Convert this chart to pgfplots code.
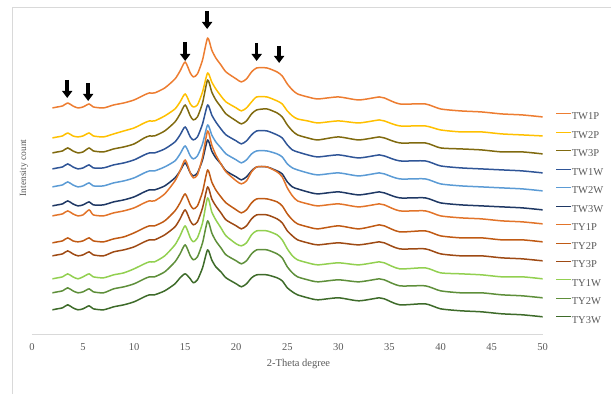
\documentclass[border=0pt]{standalone}
\usepackage{fontspec}
\setmainfont{Liberation Serif}
\usepackage{pgfplots}
\usepackage{pgfplotstable}
\pgfplotsset{compat=1.18}
\usetikzlibrary{arrows.meta}
\definecolor{cTWonep}{HTML}{ED7D31}
\definecolor{cTWtwop}{HTML}{FFC000}
\definecolor{cTWthreep}{HTML}{806A0F}
\definecolor{cTWonew}{HTML}{2F5597}
\definecolor{cTWtwow}{HTML}{5B9BD5}
\definecolor{cTWthreew}{HTML}{1F3864}
\definecolor{cTYonep}{HTML}{E2742A}
\definecolor{cTYtwop}{HTML}{C05A14}
\definecolor{cTYthreep}{HTML}{9E4A14}
\definecolor{cTYonew}{HTML}{92D050}
\definecolor{cTYtwow}{HTML}{5E8F3A}
\definecolor{cTYthreew}{HTML}{3E6B2A}
\definecolor{txtgray}{HTML}{595959}
\definecolor{linegray}{HTML}{D9D9D9}
% y values: vertical position (pixel rows from the top of the figure)
\pgfplotstableread{
x s1 s2 s3 s4 s5 s6 s7 s8 s9 s10 s11 s12
2 108 138 153 169 187 206 216 243 256 279 293 310
2.5 107 137 152 168 186 205 215 242 255 278 292 309
3 106 136 151 167 185 204 214 241 254 277 291 308
3.5 103 133 148 164 182 201 211 238 251 274 288 305
4 106 136 151 167 185 204 214 241 254 277 291 308
4.5 108 137 153 169 187 206 216 242 256 279 293 310
5 107 136 152 168 186 205 215 241 255 277 292 309
5.6 104 133 148 165 183 202 210 238 252 274 289 306
6 107 136 151 168 186 205 215 241 255 277 292 309
7 108 137 152 168 186 205 216 242 256 278 293 310
8 105 134 149 165 183 202 213 239 252 275 289 307
9 103 131 147 163 181 200 211 237 250 273 287 305
10 100 128 144 160 178 197 208 233 247 269 284 302
11 95 123 138 155 173 192 203 228 242 264 279 297
11.5 93 121 136 153 171 190 201 226 240 262 277 295
12 93 121 136 153 171 190 201 226 240 262 277 295
13 88 116 131 149 167 186 194 221 235 256 272 291
14 79 109 122 142 161 178 181 211 227 245 262 284
14.5 71 102 114 135 154 171 171 203 219 236 254 278
15 62 94 105 127 146 163 160 194 210 226 245 274
15.5 73 104 116 137 156 173 173 205 221 238 256 279
15.8 77 107 120 140 159 176 178 209 225 242 260 283
16.2 74 105 117 137 156 173 175 206 222 238 257 280
16.7 60 92 103 124 144 160 157 192 208 223 243 268
17.2 38 73 80 105 125 140 131 170 187 198 221 250
17.6 50 82 92 115 135 151 145 182 199 212 233 260
18 58 89 100 122 142 158 155 190 206 220 241 267
18.5 65 96 107 129 148 164 164 197 213 228 248 272
19 72 102 114 135 154 171 172 203 220 236 255 278
20 79 108 121 141 160 177 181 210 226 244 261 284
20.5 82 111 124 144 163 180 184 213 229 246 264 287
21 79 108 121 141 160 177 181 210 226 243 261 284
21.5 72 102 114 135 154 171 172 203 219 235 254 278
22 68 97 110 131 151 167 167 199 215 231 250 275
23 68 97 109 131 151 167 167 199 215 231 250 275
24 72 101 113 135 154 171 172 202 219 235 254 278
24.5 76 104 117 138 157 174 177 206 223 240 258 281
25 84 111 125 145 164 182 188 214 231 249 267 288
25.5 90 116 131 150 168 187 196 220 236 256 273 292
26 94 119 135 152 170 189 201 224 240 260 277 295
27 97 121 138 155 173 192 204 227 243 263 280 298
28 99 123 140 157 175 194 206 229 245 265 282 300
30 97 121 137 155 173 192 204 226 243 263 280 298
32 100 123 140 158 176 195 207 229 245 265 282 301
34 97 120 137 155 173 192 204 225 242 262 279 298
34.5 98 121 138 156 174 193 205 226 243 263 280 299
36 104 126 143 161 179 198 211 232 249 269 286 305
38.5 104 126 143 161 179 198 211 231 249 268 286 304
40 109 130 148 166 184 203 216 236 254 273 291 309
42 111 132 149 168 186 205 218 238 256 274 293 311
44 112 132 150 169 187 206 219 238 256 275 293 312
46 114 134 152 170 188 207 221 240 258 277 295 314
48 115 135 152 171 189 208 222 240 259 277 296 315
50 117 136 154 173 191 210 224 242 261 279 298 317
}\xrd
\begin{document}
\begin{tikzpicture}
\begin{axis}[
  scale only axis, width=511pt, height=328pt,
  xmin=0, xmax=50, ymin=7, ymax=335, y dir=reverse,
  clip=false,
  axis line style={draw=none},
  ytick=\empty,
  xtick={0,5,...,50},
  major tick length=0pt,
  tick style={draw=none},
  font=\fontsize{10.5}{12}\selectfont,
  /pgf/number format/assume math mode=true,
  xticklabel style={inner sep=0pt, yshift=-9pt, text=txtgray, font=\fontsize{10.5}{12}\selectfont},
  xlabel={2-Theta degree},
  xlabel style={at={(axis cs:26.1,364)}, anchor=center, inner sep=0pt, text=txtgray},
  ylabel={Intensity count},
  ylabel style={at={(axis cs:-0.78,168)}, anchor=center, inner sep=0pt, text=txtgray, font=\fontsize{9.5}{11}\selectfont},
  legend style={at={(axis cs:51.27,112)}, anchor=north west, draw=none, fill=none, inner sep=0pt,
    text=txtgray, font=\fontsize{10.5}{12}\selectfont,
    nodes={inner sep=0pt, text height=7.5pt, text depth=2pt},
    row sep=9pt,
    /tikz/every even column/.append style={column sep=2pt}},
  legend cell align=left,
  legend image code/.code={\draw[#1, line width=1pt] (0pt,3.3pt) -- (15pt,3.3pt);},
  every axis plot/.append style={line width=1.5pt, line join=round, mark=none, smooth, tension=0.4},
]
\addplot[cTWonep] table[x=x, y=s1] {\xrd};
\addplot[cTWtwop] table[x=x, y=s2] {\xrd};
\addplot[cTWthreep] table[x=x, y=s3] {\xrd};
\addplot[cTWonew] table[x=x, y=s4] {\xrd};
\addplot[cTWtwow] table[x=x, y=s5] {\xrd};
\addplot[cTWthreew] table[x=x, y=s6] {\xrd};
\addplot[cTYonep] table[x=x, y=s7] {\xrd};
\addplot[cTYtwop] table[x=x, y=s8] {\xrd};
\addplot[cTYthreep] table[x=x, y=s9] {\xrd};
\addplot[cTYonew] table[x=x, y=s10] {\xrd};
\addplot[cTYtwow] table[x=x, y=s11] {\xrd};
\addplot[cTYthreew] table[x=x, y=s12] {\xrd};
\legend{TW1P,TW2P,TW3P,TW1W,TW2W,TW3W,TY1P,TY2P,TY3P,TY1W,TY2W,TY3W}
% x axis line and outer frame
\draw[linegray, line width=0.8pt] (axis cs:0,335) -- (axis cs:50,335);
\draw[linegray, line width=0.8pt] (axis cs:-1.957,394) -- (axis cs:-1.957,7) -- (axis cs:56.654,7);
% peak arrows
\begin{scope}[line width=3.5pt, -{Triangle[width=10pt,length=7pt]}]
\draw (axis cs:3.45,80) -- (axis cs:3.45,98);
\draw (axis cs:5.5,83) -- (axis cs:5.5,101);
\draw (axis cs:15.0,42) -- (axis cs:15.0,61);
\draw (axis cs:17.15,11) -- (axis cs:17.15,29);
\draw (axis cs:22.0,43) -- (axis cs:22.0,61);
\draw (axis cs:24.2,46) -- (axis cs:24.2,63);
\end{scope}
\path (axis cs:-3.131,0) rectangle (axis cs:56.654,394);
\end{axis}
\end{tikzpicture}
\end{document}
